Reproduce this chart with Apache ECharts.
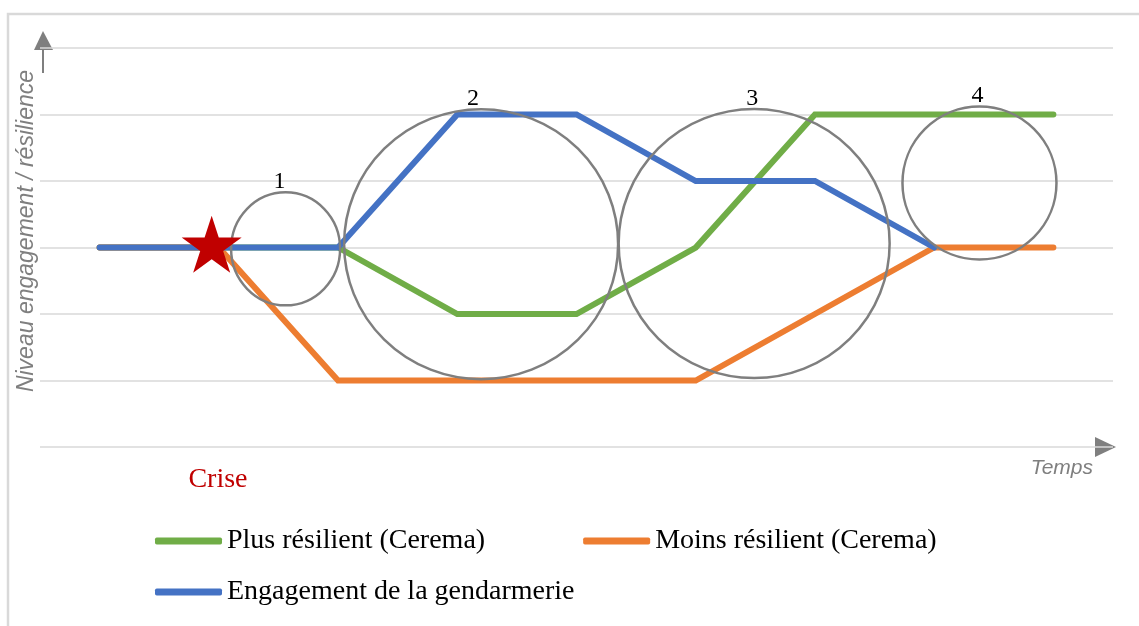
<!DOCTYPE html>
<html>
<head>
<meta charset="utf-8">
<style>
  html, body { margin: 0; padding: 0; background: #fff; }
  #chart { width: 1139px; height: 626px; }
</style>
<script src="https://cdn.jsdelivr.net/npm/echarts@6/dist/echarts.min.js"></script>
</head>
<body>
<div id="chart"></div>
<script>
// time steps (schematic, no units)
const steps = [0, 1, 2, 3, 4, 5, 6, 7, 8];
const plusResilient = [3, 3, 3, 2, 2, 3, 5, 5, 5];
const moinsResilient = [3, 3, 1, 1, 1, 1, 2, 3, 3];
const engagement = [3, 3, 3, 5, 5, 4, 4, 3, null];

const seriesNames = ['Plus résilient (Cerema)', 'Moins résilient (Cerema)', 'Engagement de la gendarmerie'];

// phases circled on the chart: centre [step, level] and their number
const phaseCentres = [[1.56, 2.98], [3.2, 3.05], [5.49, 3.06], [7.38, 3.97]];
const phaseLabels = ['1', '2', '3', '4'];
const phaseSizes = [[109, 113], [274, 270], [271, 269], [154, 153]];
const phaseLabelShift = [-6, -8, -2, -2];

// crisis moment
const crise = [[0.94, 3.05]];

const serif = 'Liberation Serif';
const sans = 'Liberation Sans';
const grey = '#7f7f7f';

function starPath() {
    let d = 'path://';
    for (let i = 0; i < 10; i++) {
        const a = -Math.PI / 2 + i * Math.PI / 5;
        const r = i % 2 ? 0.382 : 1;
        d += (i ? 'L' : 'M') + (Math.cos(a) * r).toFixed(4) + ' ' + (Math.sin(a) * r).toFixed(4);
    }
    return d + 'Z';
}

function pairs(ys) {
    return steps.map((x, i) => [x, ys[i]]);
}

function lineSeries(name, ys, color, z) {
    return {
        name: name,
        type: 'line',
        data: pairs(ys),
        symbol: 'none',
        z: z,
        color: color,
        lineStyle: { width: 6, color: color, cap: 'round', join: 'miter' },
        emphasis: { disabled: true }
    };
}

var chart = echarts.init(document.getElementById('chart'));

var legendBase = {
    left: 155,
    padding: 0,
    icon: 'roundRect',
    itemWidth: 67,
    itemHeight: 7,
    itemGap: 98,
    selectedMode: false,
    textStyle: { fontFamily: serif, fontSize: 28, color: '#000' }
};

var option = {
    animation: false,
    backgroundColor: '#fff',
    grid: { left: 40, right: 26, top: 48, bottom: 179 },
    xAxis: {
        type: 'value',
        min: -0.5,
        max: 8.5,
        show: false
    },
    yAxis: {
        type: 'value',
        min: 0,
        max: 6,
        interval: 1,
        axisLine: { show: false },
        axisTick: { show: false },
        axisLabel: { show: false },
        splitLine: { lineStyle: { color: '#d9d9d9', width: 1.5 } }
    },
    legend: [
        Object.assign({}, legendBase, { data: seriesNames.slice(0, 2), top: 527 }),
        Object.assign({}, legendBase, { data: seriesNames.slice(2), top: 578 })
    ],
    graphic: [
        // frame
        { type: 'rect', shape: { x: 8, y: 14, width: 1200, height: 700 },
          style: { fill: 'none', stroke: '#d9d9d9', lineWidth: 2.5 }, silent: true },
        // vertical arrow
        { type: 'line', shape: { x1: 43, y1: 73, x2: 43, y2: 48 }, style: { stroke: grey, lineWidth: 2 } },
        { type: 'polygon', shape: { points: [[43, 31], [34, 50], [53, 50]] }, style: { fill: grey } },
        // horizontal arrow head
        { type: 'polygon', shape: { points: [[1116, 447], [1095, 437], [1095, 457]] }, style: { fill: grey } },
        { type: 'text', x: 27, y: 231, rotation: Math.PI / 2,
          style: { text: 'Niveau engagement / résilience', fontFamily: sans, fontStyle: 'italic',
                   fontSize: 23, fill: grey, align: 'center', verticalAlign: 'middle' } },
        { type: 'text', x: 1093, y: 468,
          style: { text: 'Temps', fontFamily: sans, fontStyle: 'italic',
                   fontSize: 21, fill: grey, align: 'right', verticalAlign: 'middle' } },
        { type: 'text', x: 218, y: 480,
          style: { text: 'Crise', fontFamily: serif, fontSize: 28, fill: '#c00000',
                   align: 'center', verticalAlign: 'middle' } }
    ],
    series: [
        lineSeries(seriesNames[0], plusResilient, '#70ad47', 2),
        lineSeries(seriesNames[1], moinsResilient, '#ed7d31', 3),
        lineSeries(seriesNames[2], engagement, '#4472c4', 4),
        {
            type: 'scatter',
            data: phaseCentres.map((c, i) => ({
                value: c,
                label: { offset: [phaseLabelShift[i], 0] }
            })),
            z: 5,
            symbol: 'circle',
            symbolSize: (v, p) => phaseSizes[p.dataIndex],
            itemStyle: { color: 'none', borderColor: grey, borderWidth: 2.5, opacity: 1 },
            label: {
                show: true,
                position: 'top',
                distance: -4,
                formatter: p => phaseLabels[p.dataIndex],
                fontFamily: serif,
                fontSize: 24,
                color: '#000'
            },
            emphasis: { disabled: true },
            silent: true
        },
        {
            type: 'scatter',
            data: crise,
            z: 6,
            symbol: starPath(),
            symbolSize: [60, 57],
            itemStyle: { color: '#c00000', opacity: 1 },
            emphasis: { disabled: true },
            silent: true
        }
    ]
};

chart.setOption(option);
</script>
</body>
</html>
